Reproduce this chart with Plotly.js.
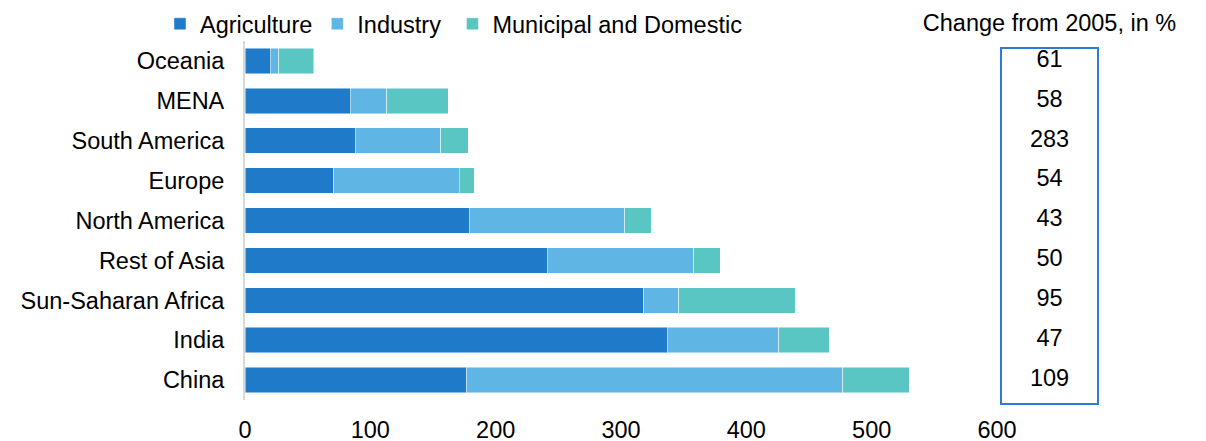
<!DOCTYPE html>
<html>
<head>
<meta charset="utf-8">
<script src="https://cdn.plot.ly/plotly-3.0.1.min.js"></script>
<style>html,body{margin:0;padding:0;background:#fff;}#chart{width:1206px;height:441px;}</style>
</head>
<body>
<div id="chart"></div>
<script>
var regions = ["Oceania", "MENA", "South America", "Europe", "North America", "Rest of Asia", "Sun-Saharan Africa", "India", "China"];
var agriculture = [20, 84, 88, 71, 179, 241, 318, 337, 177];
var industry = [7, 29, 68, 100, 124, 117, 28, 89, 300];
var municipal = [28, 49, 22, 12, 21, 21, 93, 40, 53];
var changePct = [61, 58, 283, 54, 43, 50, 95, 47, 109];
var changeHeader = "Change from 2005, in %";
var xTicks = [0, 100, 200, 300, 400, 500, 600];

var FONT = "Liberation Sans, Arial, sans-serif";
var FS = 23.5;
var lineStyle = {color: "rgba(255,255,255,0.6)", width: 0.8};

var traces = [
  {type: "bar", orientation: "h", name: "Agriculture", y: regions, x: agriculture,
   marker: {color: "#1F7AC9", line: lineStyle}, hoverinfo: "x+y"},
  {type: "bar", orientation: "h", name: "Industry\u00a0", y: regions, x: industry,
   marker: {color: "#5FB5E3", line: lineStyle}, hoverinfo: "x+y"},
  {type: "bar", orientation: "h", name: "Municipal and Domestic", y: regions, x: municipal,
   marker: {color: "#5AC6C4", line: lineStyle}, hoverinfo: "x+y"},
  {type: "scatter", mode: "text", xaxis: "x2", yaxis: "y", showlegend: false,
   y: regions, x: regions.map(function(){return changeHeader;}),
   text: changePct.map(String), textposition: "middle center",
   textfont: {family: FONT, size: FS, color: "#000"}, hoverinfo: "text"}
];

var W = 1206, H = 441, L = 245, R = 106, T = 41, B = 41;
var pw = W - L - R;
function px(xp){ return (xp - L) / pw; }
var ph = H - T - B;
function py(yp){ return (H - B - yp) / ph; }

var layout = {
  width: W, height: H,
  margin: {l: L, r: R, t: T, b: B, pad: 0, autoexpand: false},
  paper_bgcolor: "#fff", plot_bgcolor: "#fff",
  font: {family: FONT, size: FS, color: "#000"},
  barmode: "stack",
  bargap: 0.36,
  showlegend: true,
  legend: {orientation: "h", x: px(160), xanchor: "left", y: py(24), yanchor: "middle",
           font: {family: FONT, size: FS, color: "#000"}, bgcolor: "rgba(0,0,0,0)",
           itemwidth: 30, traceorder: "normal"},
  xaxis: {domain: [0, px(997)], range: [0, 600], tickvals: xTicks, ticktext: xTicks.map(String),
          showgrid: false, zeroline: false, showline: false, ticks: "", ticklabelstandoff: 13,
          tickfont: {family: FONT, size: FS, color: "#000"}, fixedrange: true},
  xaxis2: {domain: [px(1001), px(1098)], anchor: "y", side: "top", type: "category",
           showgrid: false, zeroline: false, showline: false, ticks: "", ticklabelstandoff: 4,
           tickfont: {family: FONT, size: FS, color: "#000"}, fixedrange: true},
  yaxis: {type: "category", categoryorder: "array", categoryarray: regions, autorange: "reversed",
          showgrid: false, zeroline: false, showline: true, linecolor: "#D9D9D9", linewidth: 2,
          ticks: "", ticklabelstandoff: 14, tickfont: {family: FONT, size: FS, color: "#000"},
          fixedrange: true},
  shapes: [
    {type: "rect", xref: "x2 domain", yref: "paper", x0: 0, x1: 1, y0: py(404), y1: py(48),
     line: {color: "#2E7BD6", width: 2}, fillcolor: "rgba(0,0,0,0)", layer: "above"}
  ]
};

Plotly.newPlot("chart", traces, layout, {displayModeBar: false, staticPlot: true});
</script>
</body>
</html>
